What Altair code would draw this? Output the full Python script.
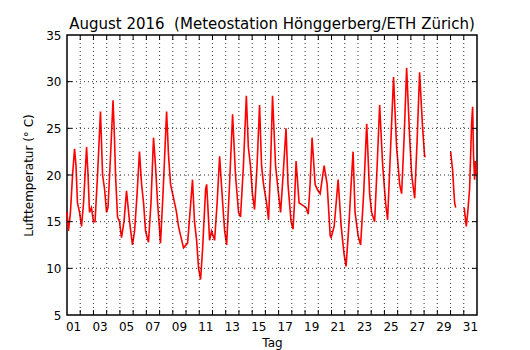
import altair as alt
import pandas as pd

# Segment 1: Aug 1 00:00 .. Aug 27 ~03:00 (time in days since Aug 1 00:00)
t1 = [0.0, 0.11, 0.26, 0.42, 0.57, 0.68, 0.79, 0.95,
      1.10, 1.25, 1.48, 1.59, 1.70, 1.85,
      2.00, 2.12, 2.31, 2.53, 2.69, 2.84, 2.99,
      3.10, 3.29, 3.48, 3.59, 3.67, 3.82, 3.97,
      4.12, 4.31, 4.50, 4.73, 4.95,
      5.11, 5.30, 5.48, 5.64, 5.79, 5.94,
      6.16, 6.35, 6.54, 6.69, 6.85,
      7.07, 7.26, 7.53, 7.68, 7.83,
      8.06, 8.21, 8.28, 8.43, 8.59, 8.81,
      9.12, 9.30, 9.49, 9.64, 9.80, 9.95,
      10.10, 10.25, 10.48, 10.56, 10.71, 10.78, 10.93,
      11.16, 11.35, 11.54, 11.77, 11.92,
      12.07, 12.29, 12.52, 12.74, 12.97,
      13.12, 13.34, 13.56, 13.71, 13.87,
      14.02, 14.18, 14.37, 14.56, 14.71, 14.86,
      15.09, 15.24, 15.39, 15.54, 15.77, 15.99,
      16.15, 16.34, 16.56, 16.71, 16.94,
      17.09, 17.20, 17.32, 17.55, 17.78,
      18.08, 18.24, 18.38, 18.53, 18.76, 18.91,
      19.14, 19.29, 19.44, 19.67, 19.90, 19.97,
      20.20, 20.35, 20.50, 20.73, 20.95,
      21.10, 21.33, 21.48, 21.63, 21.78,
      22.01, 22.20, 22.43, 22.66, 22.88,
      23.03, 23.26, 23.45, 23.64, 23.87,
      24.09, 24.24, 24.47, 24.69, 24.92,
      25.15, 25.30, 25.49, 25.68, 25.91,
      26.06, 26.29, 26.48, 26.66, 26.89,
      27.04, 27.12]
temp1 = [16, 14, 16, 20, 22.8, 21, 17, 16,
         14.5, 17, 23, 20, 16, 16.5,
         15, 15, 20, 26.8, 20, 18.5, 16,
         16.5, 22, 28, 24, 20, 15.5, 15,
         13.3, 15, 18.3, 15, 12.5,
         14, 18, 22.5, 19, 17, 14,
         12.8, 17, 24, 21, 17,
         12.7, 18, 26.8, 22, 19,
         17.5, 16.5, 16, 14.5, 13.5, 12.2,
         12.7, 16, 19.5, 15, 13, 10,
         8.8, 12, 18.5, 19, 15, 13, 14,
         13, 17, 22, 17, 14,
         12.5, 19, 26.5, 20, 16,
         15.5, 21, 28.5, 23, 21,
         18, 16.3, 21, 27.5, 21, 19,
         17, 15.2, 21, 28.5, 21, 18,
         16, 20, 25, 19, 15,
         14.2, 17, 21.5, 17, 16.8,
         16.5, 15.8, 19, 24, 19, 18.5,
         18, 19.5, 21, 19, 13.5, 13.3,
         14.5, 17, 19.5, 14.5, 11.5,
         10.2, 15, 19, 22.5, 16,
         13.5, 12.5, 18, 25.5, 18,
         16, 15, 21, 27.5, 21,
         17, 15.2, 23, 30.5, 23,
         19, 18, 24, 31.5, 24,
         20, 17.5, 24, 31, 25,
         22, 22]

# Segment 2: Aug 30 morning
t2 = [29.01, 29.08, 29.16, 29.24, 29.31, 29.39]
temp2 = [22.5, 21.5, 20.5, 18.5, 17, 16.5]

# Segment 3: Aug 31
t3 = [30.03, 30.19, 30.30, 30.44, 30.59, 30.67, 30.74, 30.82, 30.89, 30.97]
temp3 = [16.5, 14.5, 16, 18.5, 25.5, 27.3, 22, 19.5, 21.5, 20]

label_days = ["01", "03", "05", "07", "09", "11", "13", "15", "17", "19",
              "21", "23", "25", "27", "29", "31"]
day_lines = list(range(1, 31))
y_ticks = [5, 10, 15, 20, 25, 30, 35]
y_grid = [10, 15, 20, 25, 30]

rows = []
for seg, (ts, vs) in enumerate([(t1, temp1), (t2, temp2), (t3, temp3)]):
    for t, v in zip(ts, vs):
        rows.append({"t": t, "T": v, "seg": seg})
df = pd.DataFrame(rows)

lab_df = pd.DataFrame({"t": [int(d) - 0.5 for d in label_days], "lab": label_days})

W, H = 410, 280
xscale = alt.Scale(domain=[0, 31], nice=False, zero=False)
yscale = alt.Scale(domain=[5, 35], nice=False, zero=False)

XTITLE = "Tag"
YTITLE = "Lufttemperatur (° C)"

line = alt.Chart(df).mark_line(color="#ff0000", strokeWidth=1.6).encode(
    x=alt.X("t:Q", scale=xscale, title=XTITLE,
            axis=alt.Axis(values=[15.5], grid=False, ticks=False, domain=False,
                          labels=False, titlePadding=22)),
    y=alt.Y("T:Q", scale=yscale, title=YTITLE,
            axis=alt.Axis(values=y_ticks, grid=False, ticks=False, domain=False,
                          labelPadding=6, titlePadding=10, labelOverlap=False,
                          labelFlush=False)),
    detail="seg:N",
)

xlabels = alt.Chart(lab_df).mark_text(
    font="DejaVu Sans", fontSize=12, color="black", baseline="top", dy=7).encode(
    x=alt.X("t:Q", scale=xscale, title=XTITLE), y=alt.value(H), text="lab:N")

gdash = [1, 3]
vgrid = alt.Chart(pd.DataFrame({"t": day_lines})).mark_rule(
    color="black", strokeWidth=0.8, strokeDash=gdash).encode(
    x=alt.X("t:Q", scale=xscale, title=XTITLE))
hgrid = alt.Chart(pd.DataFrame({"T": y_grid})).mark_rule(
    color="black", strokeWidth=0.8, strokeDash=gdash).encode(
    y=alt.Y("T:Q", scale=yscale, title=YTITLE))

tick_df = pd.DataFrame({"t": day_lines})
xt_bottom = alt.Chart(tick_df).mark_rule(color="black", strokeWidth=1).encode(
    x=alt.X("t:Q", scale=xscale, title=XTITLE), y=alt.value(H), y2=alt.value(H - 5))
xt_top = alt.Chart(tick_df).mark_rule(color="black", strokeWidth=1).encode(
    x=alt.X("t:Q", scale=xscale, title=XTITLE), y=alt.value(0), y2=alt.value(5))
ytick_df = pd.DataFrame({"T": y_grid})
yt_left = alt.Chart(ytick_df).mark_rule(color="black", strokeWidth=1).encode(
    y=alt.Y("T:Q", scale=yscale, title=YTITLE), x=alt.value(0), x2=alt.value(5))
yt_right = alt.Chart(ytick_df).mark_rule(color="black", strokeWidth=1).encode(
    y=alt.Y("T:Q", scale=yscale, title=YTITLE), x=alt.value(W), x2=alt.value(W - 5))

chart = alt.layer(line, vgrid, hgrid, xt_bottom, xt_top, yt_left, yt_right, xlabels).properties(
    width=W, height=H,
    title=alt.TitleParams("August 2016\u00a0 (Meteostation Hönggerberg/ETH Zürich)",
                          font="DejaVu Sans", fontSize=15, fontWeight="normal",
                          color="black", anchor="middle", offset=1, dy=4),
    autosize=alt.AutoSizeParams(type="none"),
    padding={"left": 59, "top": 27, "right": 45, "bottom": 35},
).configure_view(stroke="black", strokeWidth=1.5).configure_axis(
    labelFont="DejaVu Sans", labelFontSize=12, labelColor="black",
    titleFont="DejaVu Sans", titleFontSize=12, titleFontWeight="normal", titleColor="black",
)

chart.save("out.html", embed_options={"renderer": "svg", "actions": False})
